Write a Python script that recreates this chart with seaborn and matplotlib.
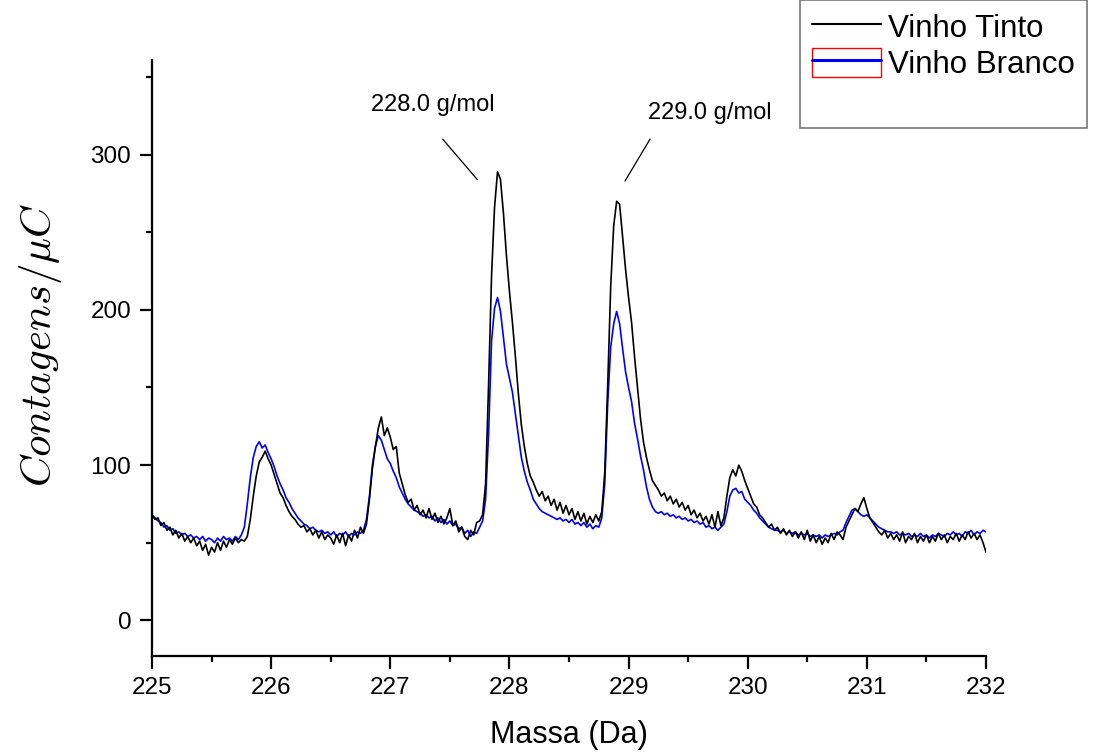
import numpy as np
import pandas as pd
import matplotlib
matplotlib.use("Agg")
import matplotlib.pyplot as plt
from matplotlib.lines import Line2D
from matplotlib.patches import Rectangle
from matplotlib.ticker import MultipleLocator
import seaborn as sns

# sampling grid (Da), 0.025 Da step from 225 to 232
massa = np.round(np.arange(0, 281) * 0.025 + 225.0, 3)

vinho_tinto = [
    # 225.000 - 225.975
    68, 65, 66, 61, 63, 58, 60, 55, 58, 53, 56, 51, 54, 50, 53, 48, 51, 45, 49, 42,
    47, 44, 50, 45, 51, 47, 52, 49, 53, 50, 52, 51, 54, 65, 80, 93, 102, 105, 109, 104,
    # 226.000 - 226.975
    100, 94, 88, 82, 79, 74, 70, 67, 65, 62, 60, 61, 57, 59, 55, 58, 53, 57, 52, 55,
    53, 49, 55, 50, 56, 48, 55, 51, 58, 53, 60, 56, 62, 78, 98, 112, 124, 131, 119, 124,
    # 227.000 - 227.975
    118, 110, 112, 95, 88, 81, 76, 78, 71, 74, 68, 71, 66, 72, 65, 69, 63, 67, 62, 66,
    72, 61, 64, 57, 60, 54, 52, 58, 55, 63, 64, 68, 88, 152, 222, 266, 289, 284, 262, 235,
    # 228.000 - 228.975
    212, 192, 170, 146, 126, 112, 101, 93, 89, 84, 80, 83, 77, 80, 74, 78, 71, 76, 69, 74,
    68, 72, 65, 70, 64, 69, 62, 67, 63, 68, 64, 70, 95, 152, 215, 254, 270, 268, 247, 226,
    # 229.000 - 229.975
    208, 192, 170, 150, 130, 115, 105, 97, 90, 87, 84, 80, 82, 77, 80, 75, 78, 73, 76, 71,
    74, 68, 71, 66, 69, 64, 67, 62, 68, 60, 70, 61, 66, 80, 92, 97, 93, 100, 96, 90,
    # 230.000 - 230.975
    85, 80, 75, 73, 68, 66, 63, 60, 62, 58, 60, 56, 59, 55, 58, 54, 57, 53, 57, 52,
    58, 51, 55, 50, 54, 49, 53, 50, 56, 52, 57, 55, 52, 60, 64, 68, 72, 70, 75, 79,
    # 231.000 - 232.000
    72, 66, 63, 60, 57, 55, 58, 53, 56, 52, 55, 51, 57, 50, 54, 52, 56, 50, 54, 51,
    55, 50, 54, 51, 56, 52, 55, 50, 54, 52, 56, 51, 55, 52, 57, 53, 56, 52, 55, 50, 44,
]

vinho_branco = [
    # 225.000 - 225.975
    68, 66, 64, 63, 60, 61, 58, 59, 56, 57, 55, 56, 54, 55, 53, 54, 52, 54, 51, 53,
    52, 50, 53, 51, 54, 52, 53, 51, 54, 52, 55, 60, 75, 92, 105, 112, 115, 111, 113, 108,
    # 226.000 - 226.975
    104, 99, 93, 88, 84, 79, 76, 72, 69, 66, 64, 62, 61, 59, 60, 58, 57, 58, 56, 57,
    55, 57, 54, 56, 55, 57, 54, 56, 55, 57, 56, 58, 65, 80, 100, 112, 119, 116, 110, 104,
    # 227.000 - 227.975
    101, 96, 92, 86, 82, 78, 75, 73, 71, 70, 69, 67, 68, 66, 67, 64, 66, 63, 65, 62,
    64, 61, 62, 59, 60, 56, 58, 54, 57, 56, 60, 64, 78, 120, 180, 201, 208, 199, 182, 165,
    # 228.000 - 228.975
    156, 147, 133, 119, 105, 96, 89, 84, 78, 75, 72, 70, 69, 68, 67, 66, 65, 66, 64, 65,
    63, 65, 62, 63, 61, 63, 60, 62, 59, 61, 60, 66, 88, 140, 176, 191, 199, 191, 175, 160,
    # 229.000 - 229.975
    150, 141, 127, 117, 106, 97, 86, 78, 73, 70, 69, 70, 68, 69, 67, 68, 66, 67, 65, 66,
    64, 65, 63, 64, 62, 63, 60, 61, 59, 60, 58, 60, 62, 70, 80, 84, 85, 82, 83, 78,
    # 230.000 - 230.975
    76, 74, 71, 69, 66, 64, 62, 60, 59, 58, 58, 57, 58, 56, 57, 56, 57, 55, 56, 55,
    56, 54, 55, 54, 55, 53, 55, 54, 55, 56, 55, 57, 58, 63, 67, 71, 72, 70, 68, 67,
    # 231.000 - 232.000
    68, 66, 64, 62, 60, 59, 58, 57, 57, 56, 57, 55, 56, 55, 56, 54, 55, 54, 56, 54,
    55, 53, 55, 54, 56, 55, 54, 56, 55, 57, 55, 56, 54, 57, 56, 58, 55, 57, 56, 58, 57,
]

series_names = ["Vinho Tinto", "Vinho Branco"]
series_colors = ["#000000", "#0000FF"]

x_ticks = [225, 226, 227, 228, 229, 230, 231, 232]
y_ticks = [0, 100, 200, 300]

annot_labels = ["228.0 g/mol", "229.0 g/mol"]
annot_text_xy = [(227.36, 332), (229.68, 327)]
annot_line_start = [(227.44, 310), (229.18, 310)]
annot_line_end = [(227.73, 284), (228.97, 283)]

df = pd.DataFrame({
    "Massa": np.concatenate([massa, massa]),
    "Contagens": np.concatenate([vinho_tinto, vinho_branco]),
    "Amostra": [series_names[0]] * len(massa) + [series_names[1]] * len(massa),
})

sns.set_theme(style="ticks")
plt.rcParams["font.family"] = ["Liberation Sans", "DejaVu Sans"]
plt.rcParams["mathtext.fontset"] = "cm"
plt.rcParams["text.color"] = "black"
plt.rcParams["axes.labelcolor"] = "black"

fig = plt.figure(figsize=(10.95, 7.56), dpi=100)
ax = fig.add_axes([152 / 1095, 100 / 756, 834 / 1095, 596 / 756])

# Draw blue (Branco) then black (Tinto) on top
sns.lineplot(data=df[df["Amostra"] == series_names[1]], x="Massa", y="Contagens",
             color=series_colors[1], lw=1.2, ax=ax, legend=False, estimator=None)
sns.lineplot(data=df[df["Amostra"] == series_names[0]], x="Massa", y="Contagens",
             color=series_colors[0], lw=1.2, ax=ax, legend=False, estimator=None)

ax.set_xlim(225, 232)
ax.set_ylim(-23, 361)
ax.set_xticks(x_ticks)
ax.set_yticks(y_ticks)
ax.xaxis.set_minor_locator(MultipleLocator(0.5))
ax.yaxis.set_minor_locator(MultipleLocator(50))

for side in ["top", "right"]:
    ax.spines[side].set_visible(False)
for side in ["left", "bottom"]:
    ax.spines[side].set_linewidth(1.6)
    ax.spines[side].set_color("black")

ax.tick_params(axis="both", which="major", direction="out", length=9, width=1.6,
               labelsize=17.5, pad=6, colors="black")
ax.tick_params(axis="both", which="minor", direction="out", length=4.5, width=1.6,
               colors="black")

ax.set_xlabel("Massa (Da)", fontsize=22)
ax.xaxis.set_label_coords(0.5, -0.108)
ax.set_ylabel(r"$Contagens/\mu C$", fontsize=31)
ax.yaxis.set_label_coords(-0.106, 0.522)

for lab, txy, p0, p1 in zip(annot_labels, annot_text_xy, annot_line_start, annot_line_end):
    ax.text(txy[0], txy[1], lab, ha="center", va="center", fontsize=17, color="black")
    ax.plot([p0[0], p1[0]], [p0[1], p1[1]], color="black", lw=0.9, clip_on=False)

# legend (third empty row reproduces the blank space at the bottom of the box)
h_tinto = Line2D([], [], color=series_colors[0], lw=1.5)
h_branco = (Rectangle((0, 0), 1, 1, facecolor="white", edgecolor="red", lw=1.0),
            Line2D([], [], color=series_colors[1], lw=2.2))
h_empty = Line2D([], [], color="none", lw=0)
leg = fig.legend([h_tinto, h_branco, h_empty], series_names + [" "], loc="upper left",
                 bbox_to_anchor=(800 / 1095, 1.0), bbox_transform=fig.transFigure,
                 fontsize=22.5, frameon=True, fancybox=False, handlelength=2.2,
                 handleheight=1.05, borderpad=0.38, labelspacing=0.12,
                 handletextpad=0.25, borderaxespad=0.0)
leg.get_frame().set_edgecolor("#555555")
leg.get_frame().set_linewidth(1.2)
for t in leg.get_texts():
    t.set_color("black")

fig.savefig("out.png", dpi=100)
